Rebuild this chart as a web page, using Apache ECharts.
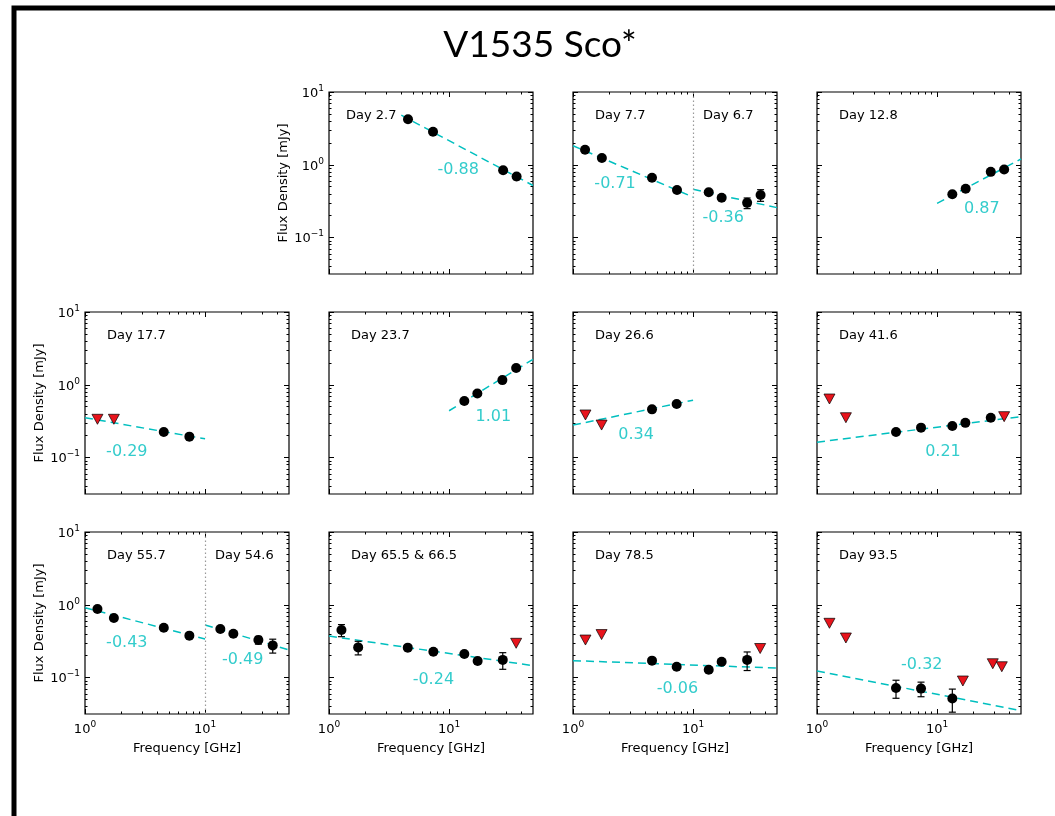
<!DOCTYPE html>
<html><head><meta charset="utf-8">
<script src="https://cdn.jsdelivr.net/npm/echarts@6/dist/echarts.min.js"></script>
<style>html,body{margin:0;padding:0;background:#fff}#c{width:1055px;height:816px}</style>
</head><body><div id="c"></div><script>
// ---------------- data ----------------
const chartTitle = 'V1535 Sco*';
const xTicks = [1, 10];
const xMinorTicks = [2,3,4,5,6,7,8,9,20,30,40];
const yTicks = [0.1, 1, 10];
const yMinorTicks = [0.04,0.05,0.06,0.07,0.08,0.09,0.2,0.3,0.4,0.5,0.6,0.7,0.8,0.9,2,3,4,5,6,7,8,9];

// Day 2.7
const a_freq = [4.55, 7.35, 28.2, 36.5];
const a_flux = [4.22, 2.85, 0.84, 0.69];
const a_err  = [0.15, 0.10, 0.04, 0.065];
const a_fit1 = [[4, 4.8], [50, 0.52]];
// Day 7.7 / 6.7
const b_freq = [1.26, 1.74, 4.55, 7.35, 13.5, 17.3, 28.2, 36.5];
const b_flux = [1.61, 1.24, 0.665, 0.45, 0.42, 0.353, 0.30, 0.385];
const b_err  = [0.06, 0.05, 0.03, 0.02, 0.02, 0.02, 0.05, 0.07];
const b_fit1 = [[1, 1.83], [10, 0.36]];
const b_fit2 = [[10, 0.46], [50, 0.258]];
// Day 12.8
const c_freq = [13.4, 17.3, 28.0, 36.2];
const c_flux = [0.393, 0.47, 0.80, 0.86];
const c_err  = [0.02, 0.02, 0.04, 0.05];
const c_fit1 = [[10, 0.296], [50, 1.2]];
// Day 17.7
const d_freq = [4.53, 7.4];
const d_flux = [0.225, 0.194];
const d_err  = [0.01, 0.01];
const d_limFreq = [1.27, 1.74];
const d_limFlux = [0.336, 0.336];
const d_fit1 = [[1, 0.353], [10, 0.181]];
// Day 23.7
const e_freq = [13.4, 17.2, 27.8, 36.2];
const e_flux = [0.60, 0.76, 1.16, 1.70];
const e_err  = [0.03, 0.03, 0.05, 0.06];
const e_fit1 = [[10, 0.44], [50, 2.24]];
// Day 26.6
const f_freq = [4.55, 7.3];
const f_flux = [0.46, 0.545];
const f_err  = [0.02, 0.02];
const f_limFreq = [1.27, 1.73];
const f_limFlux = [0.385, 0.28];
const f_fit1 = [[1, 0.28], [10, 0.614]];
// Day 41.6
const g_freq = [4.55, 7.35, 13.4, 17.2, 28.0];
const g_flux = [0.225, 0.258, 0.272, 0.30, 0.353];
const g_err  = [0.01, 0.01, 0.01, 0.01, 0.03];
const g_limFreq = [1.27, 1.74, 36.2];
const g_limFlux = [0.638, 0.353, 0.365];
const g_fit1 = [[1, 0.163], [50, 0.365]];
// Day 55.7 / 54.6
const h_freq = [1.27, 1.74, 4.53, 7.4, 13.4, 17.2, 27.8, 36.6];
const h_flux = [0.875, 0.66, 0.485, 0.377, 0.465, 0.40, 0.328, 0.277];
const h_err  = [0.07, 0.04, 0.02, 0.02, 0.02, 0.02, 0.04, 0.06];
const h_fit1 = [[1, 0.91], [10, 0.339]];
const h_fit2 = [[10, 0.528], [50, 0.24]];
// Day 65.5 & 66.5
const i_freq = [1.27, 1.75, 4.53, 7.4, 13.4, 17.3, 28.0];
const i_flux = [0.45, 0.26, 0.258, 0.227, 0.211, 0.169, 0.175];
const i_err  = [0.085, 0.055, 0.012, 0.01, 0.01, 0.015, 0.045];
const i_limFreq = [36.2];
const i_limFlux = [0.296];
const i_fit1 = [[1, 0.372], [50, 0.146]];
// Day 78.5
const j_freq = [4.55, 7.3, 13.5, 17.3, 28.2];
const j_flux = [0.171, 0.141, 0.128, 0.165, 0.175];
const j_err  = [0.01, 0.008, 0.01, 0.012, 0.05];
const j_limFreq = [1.27, 1.73, 36.2];
const j_limFlux = [0.328, 0.39, 0.251];
const j_fit1 = [[1, 0.171], [50, 0.135]];
// Day 93.5
const k_freq = [4.55, 7.35, 13.4];
const k_flux = [0.072, 0.0706, 0.0515];
const k_err  = [0.02, 0.016, 0.018];
const k_limFreq = [1.27, 1.74, 16.4, 29.1, 34.6];
const k_limFlux = [0.557, 0.35, 0.0898, 0.155, 0.141];
const k_fit1 = [[1, 0.123], [50, 0.0352]];

// spectral index labels and their anchor positions (data coords)
const slopeTexts = [['-0.88'], ['-0.71','-0.36'], ['0.87'], ['-0.29'], ['1.01'], ['0.34'], ['0.21'], ['-0.43','-0.49'], ['-0.24'], ['-0.06'], ['-0.32']];
const slopeAt = [[[11.9,0.85]], [[2.24,0.54],[17.8,0.184]], [[23.6,0.245]], [[2.23,0.12]], [[23.4,0.358]], [[3.35,0.204]], [[11.2,0.12]], [[2.23,0.296],[20.6,0.175]], [[7.4,0.093]], [[7.4,0.071]], [[7.46,0.149]]];
const dayTexts = [['Day 2.7'], ['Day 7.7','Day 6.7'], ['Day 12.8'], ['Day 17.7'], ['Day 23.7'], ['Day 26.6'], ['Day 41.6'], ['Day 55.7','Day 54.6'], ['Day 65.5 & 66.5'], ['Day 78.5'], ['Day 93.5']];

// ---------------- layout ----------------
const colLeft = [85, 329, 573, 817], rowTop = [92, 312, 532], PW = 204, PH = 182;
const X_MIN = 1, X_MAX = 50, Y_MIN = Math.pow(10, -1.5), Y_MAX = 10;
const CYAN = '#00bfbf', FONT = 'DejaVu Sans';

const panels = [
  {r:0,c:1,det:[a_freq,a_flux,a_err],lim:null,fits:[a_fit1],div:false,dayDx:[17]},
  {r:0,c:2,det:[b_freq,b_flux,b_err],lim:null,fits:[b_fit1,b_fit2],div:true,dayDx:[22,130]},
  {r:0,c:3,det:[c_freq,c_flux,c_err],lim:null,fits:[c_fit1],div:false,dayDx:[22]},
  {r:1,c:0,det:[d_freq,d_flux,d_err],lim:[d_limFreq,d_limFlux],fits:[d_fit1],div:false,dayDx:[22]},
  {r:1,c:1,det:[e_freq,e_flux,e_err],lim:null,fits:[e_fit1],div:false,dayDx:[22]},
  {r:1,c:2,det:[f_freq,f_flux,f_err],lim:[f_limFreq,f_limFlux],fits:[f_fit1],div:false,dayDx:[22]},
  {r:1,c:3,det:[g_freq,g_flux,g_err],lim:[g_limFreq,g_limFlux],fits:[g_fit1],div:false,dayDx:[22]},
  {r:2,c:0,det:[h_freq,h_flux,h_err],lim:null,fits:[h_fit1,h_fit2],div:true,dayDx:[22,130]},
  {r:2,c:1,det:[i_freq,i_flux,i_err],lim:[i_limFreq,i_limFlux],fits:[i_fit1],div:false,dayDx:[22]},
  {r:2,c:2,det:[j_freq,j_flux,j_err],lim:[j_limFreq,j_limFlux],fits:[j_fit1],div:false,dayDx:[22]},
  {r:2,c:3,det:[k_freq,k_flux,k_err],lim:[k_limFreq,k_limFlux],fits:[k_fit1],div:false,dayDx:[22]}
];

const rich = {
  b: {fontSize: 13, fontFamily: FONT, color: '#000', verticalAlign: 'bottom'},
  s: {fontSize: 9, fontFamily: FONT, color: '#000', verticalAlign: 'top', padding: [0,0,7,0]}
};
function powFmt(v) {
  const e = Math.round(Math.log10(v));
  return '{b|10}{s|' + (e < 0 ? '\u2212' + (-e) : e) + '}';
}
function mkAxis(kind, gi, pos, vals, len, lbl, name) {
  const ax = {
    gridIndex: gi, type: 'log', logBase: 10, position: pos,
    min: kind === 'x' ? X_MIN : Y_MIN, max: kind === 'x' ? X_MAX : Y_MAX,
    axisLine: {show: false}, splitLine: {show: false},
    minorTick: {show: false}, minorSplitLine: {show: false},
    axisTick: {show: true, inside: true, length: len, customValues: vals, lineStyle: {color: '#000', width: 1}},
    axisLabel: lbl ? {show: true, customValues: vals, formatter: powFmt, rich: rich, margin: kind === 'x' ? 6 : 5} : {show: false},
    axisPointer: {show: false}
  };
  if (name) {
    ax.name = name; ax.nameLocation = 'middle';
    ax.nameGap = kind === 'x' ? 28 : 38;
    ax.nameTextStyle = {fontSize: 13, fontFamily: FONT, color: '#000'};
  }
  return ax;
}

const grids = [], xAxes = [], yAxes = [], series = [], graphics = [];
panels.forEach((p, gi) => {
  const L = colLeft[p.c], T = rowTop[p.r];
  grids.push({left: L, top: T, width: PW, height: PH, show: true, borderColor: '#000', borderWidth: 1.2, backgroundColor: 'transparent'});
  const xl = p.r === 2, yl = (p.c === 0) || (p.r === 0 && p.c === 1);
  xAxes.push(mkAxis('x', gi, 'bottom', xTicks, 5, xl, xl ? 'Frequency [GHz]' : null));
  xAxes.push(mkAxis('x', gi, 'bottom', xMinorTicks, 2.5, false, null));
  xAxes.push(mkAxis('x', gi, 'top', xTicks, 5, false, null));
  xAxes.push(mkAxis('x', gi, 'top', xMinorTicks, 2.5, false, null));
  yAxes.push(mkAxis('y', gi, 'left', yTicks, 5, yl, yl ? 'Flux Density [mJy]' : null));
  yAxes.push(mkAxis('y', gi, 'left', yMinorTicks, 2.5, false, null));
  yAxes.push(mkAxis('y', gi, 'right', yTicks, 5, false, null));
  yAxes.push(mkAxis('y', gi, 'right', yMinorTicks, 2.5, false, null));
  const xi = gi * 4, yi = gi * 4;

  p.fits.forEach((f, k) => {
    const s = {type: 'line', xAxisIndex: xi, yAxisIndex: yi, data: f, showSymbol: false, symbol: 'none',
      lineStyle: {color: CYAN, width: 1.5, type: [8, 5]}, silent: true, z: 2, clip: true};
    if (k === 0 && p.div) {
      s.markLine = {silent: true, symbol: 'none', label: {show: false},
        lineStyle: {type: [1.5, 2.5], color: '#999', width: 1.2}, data: [{xAxis: 10}]};
    }
    series.push(s);
  });
  const [fq, fl, er] = p.det;
  series.push({type: 'custom', xAxisIndex: xi, yAxisIndex: yi, z: 3, silent: true,
    data: fq.map((v, i) => [v, fl[i] - er[i], fl[i] + er[i]]),
    encode: {x: 0, y: [1, 2]},
    renderItem: (params, api) => {
      const x = api.value(0);
      const p1 = api.coord([x, api.value(1)]), p2 = api.coord([x, api.value(2)]);
      const cw = 3.5, st = {stroke: '#000', lineWidth: 1.2};
      return {type: 'group', children: [
        {type: 'line', shape: {x1: p1[0], y1: p1[1], x2: p2[0], y2: p2[1]}, style: st},
        {type: 'line', shape: {x1: p1[0]-cw, y1: p1[1], x2: p1[0]+cw, y2: p1[1]}, style: st},
        {type: 'line', shape: {x1: p2[0]-cw, y1: p2[1], x2: p2[0]+cw, y2: p2[1]}, style: st}
      ]};
    }});
  series.push({type: 'scatter', xAxisIndex: xi, yAxisIndex: yi, z: 4, silent: true,
    data: fq.map((v, i) => [v, fl[i]]), symbol: 'circle', symbolSize: 10,
    itemStyle: {color: '#000', opacity: 1}});
  if (p.lim) {
    series.push({type: 'scatter', xAxisIndex: xi, yAxisIndex: yi, z: 4, silent: true,
      data: p.lim[0].map((v, i) => [v, p.lim[1][i]]), symbol: 'triangle', symbolRotate: 180, symbolSize: [11, 10],
      itemStyle: {color: '#e8141c', borderColor: '#000', borderWidth: 0.7, opacity: 1}});
  }
  series.push({type: 'scatter', xAxisIndex: xi, yAxisIndex: yi, z: 5, silent: true, symbolSize: 0,
    data: slopeAt[gi].map((pt, i) => ({value: pt, name: slopeTexts[gi][i]})),
    label: {show: true, position: 'inside', formatter: '{b}', color: CYAN, fontSize: 16, fontFamily: FONT}});

  dayTexts[gi].forEach((t, i) => {
    graphics.push({type: 'text', x: L + p.dayDx[i], y: T + 24, z: 10,
      style: {text: t, fontSize: 13, fontFamily: FONT, fill: '#000', verticalAlign: 'middle', align: 'left'}});
  });
});

graphics.push({type: 'rect', z: 0, shape: {x: 14, y: 8, width: 1200, height: 1000},
  style: {fill: 'none', stroke: '#000', lineWidth: 5}});
graphics.push({type: 'text', x: 540, y: 45, z: 10,
  style: {text: chartTitle, fontSize: 37, fontFamily: 'Lato', fill: '#000', align: 'center', verticalAlign: 'middle'}});

const chart = echarts.init(document.getElementById('c'), null, {renderer: 'canvas'});
chart.setOption({
  animation: false, backgroundColor: '#fff',
  grid: grids, xAxis: xAxes, yAxis: yAxes, series: series, graphic: graphics
});
</script></body></html>
